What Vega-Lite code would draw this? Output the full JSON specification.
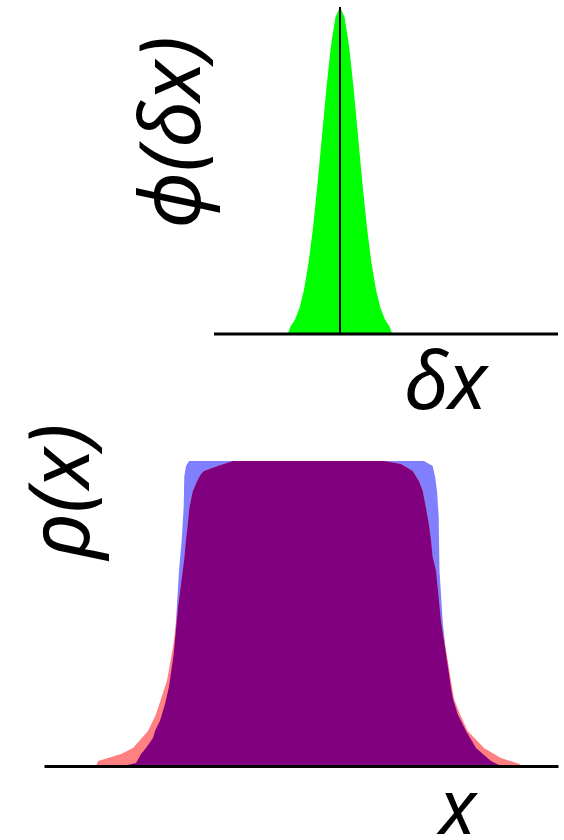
{
  "$schema": "https://vega.github.io/schema/vega-lite/v6.json",
  "padding": {"left": 20, "top": 6, "right": 0, "bottom": 0},
  "background": "white",
  "spacing": 127,
  "bounds": "flush",
  "config": {
    "view": {"stroke": null},
    "axis": {
      "grid": false, "ticks": false, "labels": false, "minExtent": 0,
      "titleFont": "Noto Sans", "titleFontStyle": "italic", "titleFontWeight": "normal",
      "titleFontSize": 80, "titleColor": "black"
    }
  },
  "datasets": {
    "phi": [
      {"dx": -2.9, "v": 0}, {"dx": -2.75, "v": 0.0228}, {"dx": -2.5, "v": 0.0439}, {"dx": -2.25, "v": 0.0796},
      {"dx": -2.0, "v": 0.1353}, {"dx": -1.75, "v": 0.2163}, {"dx": -1.5, "v": 0.3247}, {"dx": -1.25, "v": 0.4578},
      {"dx": -1.0, "v": 0.6065}, {"dx": -0.75, "v": 0.7548}, {"dx": -0.5, "v": 0.8825}, {"dx": -0.25, "v": 0.9692},
      {"dx": 0, "v": 1.0},
      {"dx": 0.25, "v": 0.9692}, {"dx": 0.5, "v": 0.8825}, {"dx": 0.75, "v": 0.7548}, {"dx": 1.0, "v": 0.6065},
      {"dx": 1.25, "v": 0.4578}, {"dx": 1.5, "v": 0.3247}, {"dx": 1.75, "v": 0.2163}, {"dx": 2.0, "v": 0.1353},
      {"dx": 2.25, "v": 0.0796}, {"dx": 2.5, "v": 0.0439}, {"dx": 2.75, "v": 0.0228}, {"dx": 2.9, "v": 0}
    ],
    "blue": [
      {"x": -17.8, "v": 0}, {"x": -16.5, "v": 0.01}, {"x": -16.0, "v": 0.039},
      {"x": -15.5, "v": 0.059}, {"x": -14.8, "v": 0.092}, {"x": -14.6, "v": 0.115},
      {"x": -14.1, "v": 0.148}, {"x": -13.6, "v": 0.203}, {"x": -13.2, "v": 0.26},
      {"x": -12.73, "v": 0.367}, {"x": -12.5, "v": 0.475}, {"x": -12.2, "v": 0.64},
      {"x": -11.93, "v": 0.74}, {"x": -11.73, "v": 0.85}, {"x": -11.67, "v": 0.95},
      {"x": -11.5, "v": 0.984}, {"x": -11.2, "v": 1.0},
      {"x": 12.3, "v": 1.0}, {"x": 13.17, "v": 0.984}, {"x": 13.4, "v": 0.95},
      {"x": 13.6, "v": 0.902}, {"x": 13.77, "v": 0.816}, {"x": 13.8, "v": 0.74},
      {"x": 13.85, "v": 0.64}, {"x": 14.17, "v": 0.475}, {"x": 14.5, "v": 0.367},
      {"x": 15.0, "v": 0.256}, {"x": 15.2, "v": 0.22}, {"x": 15.67, "v": 0.17},
      {"x": 16.5, "v": 0.115}, {"x": 17.5, "v": 0.059}, {"x": 19.0, "v": 0.016},
      {"x": 19.7, "v": 0.005}, {"x": 20.0, "v": 0}
    ],
    "red": [
      {"x": -20.5, "v": 0}, {"x": -20.3, "v": 0.016}, {"x": -18.0, "v": 0.039},
      {"x": -16.8, "v": 0.059}, {"x": -15.3, "v": 0.115}, {"x": -14.5, "v": 0.17},
      {"x": -13.4, "v": 0.28}, {"x": -12.75, "v": 0.4}, {"x": -12.3, "v": 0.52},
      {"x": -11.67, "v": 0.68}, {"x": -11.5, "v": 0.74}, {"x": -11.33, "v": 0.79},
      {"x": -11.17, "v": 0.846}, {"x": -10.83, "v": 0.9}, {"x": -10.4, "v": 0.934},
      {"x": -10.0, "v": 0.957}, {"x": -9.7, "v": 0.967}, {"x": -8.33, "v": 0.984},
      {"x": -7.5, "v": 0.993}, {"x": -6.8, "v": 1.0},
      {"x": 8.3, "v": 1.0}, {"x": 10.0, "v": 0.99}, {"x": 11.17, "v": 0.967},
      {"x": 11.8, "v": 0.934}, {"x": 12.17, "v": 0.902}, {"x": 12.5, "v": 0.846},
      {"x": 12.8, "v": 0.79}, {"x": 13.0, "v": 0.74}, {"x": 13.17, "v": 0.685},
      {"x": 13.5, "v": 0.64}, {"x": 14.0, "v": 0.475}, {"x": 14.5, "v": 0.38},
      {"x": 15.1, "v": 0.26}, {"x": 15.3, "v": 0.22}, {"x": 15.9, "v": 0.17},
      {"x": 16.67, "v": 0.115}, {"x": 18.3, "v": 0.059}, {"x": 20.0, "v": 0.026},
      {"x": 21.8, "v": 0.007}, {"x": 22.1, "v": 0}
    ],
    "overlap": [
      {"x": -17.8, "v": 0}, {"x": -16.5, "v": 0.01}, {"x": -16.0, "v": 0.039},
      {"x": -15.5, "v": 0.059}, {"x": -14.8, "v": 0.092}, {"x": -14.6, "v": 0.115},
      {"x": -14.1, "v": 0.148}, {"x": -13.6, "v": 0.203}, {"x": -13.2, "v": 0.26},
      {"x": -12.73, "v": 0.367}, {"x": -12.3, "v": 0.52}, {"x": -11.67, "v": 0.68},
      {"x": -11.5, "v": 0.74}, {"x": -11.33, "v": 0.79}, {"x": -11.17, "v": 0.846},
      {"x": -10.83, "v": 0.9}, {"x": -10.4, "v": 0.934}, {"x": -10.0, "v": 0.957},
      {"x": -9.7, "v": 0.967}, {"x": -8.33, "v": 0.984}, {"x": -7.5, "v": 0.993},
      {"x": -6.8, "v": 1.0},
      {"x": 8.3, "v": 1.0}, {"x": 10.0, "v": 0.99}, {"x": 11.17, "v": 0.967},
      {"x": 11.8, "v": 0.934}, {"x": 12.17, "v": 0.902}, {"x": 12.5, "v": 0.846},
      {"x": 12.8, "v": 0.79}, {"x": 13.0, "v": 0.74}, {"x": 13.17, "v": 0.685},
      {"x": 13.5, "v": 0.64}, {"x": 14.0, "v": 0.475}, {"x": 14.5, "v": 0.367},
      {"x": 15.0, "v": 0.256}, {"x": 15.2, "v": 0.22}, {"x": 15.67, "v": 0.17},
      {"x": 16.5, "v": 0.115}, {"x": 17.5, "v": 0.059}, {"x": 19.0, "v": 0.016},
      {"x": 19.7, "v": 0.005}, {"x": 20.0, "v": 0}
    ],
    "topLines": [
      {"kind": "base", "x": -7.0, "x2": 12.111, "y": 0, "y2": 0},
      {"kind": "center", "x": 0, "x2": 0, "y": 0, "y2": 1}
    ]
  },
  "vconcat": [
    {
      "width": 514,
      "height": 327,
      "layer": [
        {
          "data": {"name": "phi"},
          "mark": {"type": "area", "color": "#00ff00", "interpolate": "linear"},
          "encoding": {
            "x": {"field": "dx", "type": "quantitative", "scale": {"domain": [-16.444, 12.111], "nice": false, "zero": false},
              "axis": {"domain": false, "title": "δx", "titleX": 401, "titleY": 74, "titleAlign": "center", "titleBaseline": "alphabetic", "titleAnchor": null}},
            "y": {"field": "v", "type": "quantitative", "scale": {"domain": [0, 1], "nice": false},
              "axis": {"domain": false, "title": "ϕ(δx)", "titleX": 155, "titleY": 125, "titleAngle": 270, "titleFontSize": 84, "titleAlign": "center", "titleBaseline": "alphabetic", "titleAnchor": null}}
          }
        },
        {
          "data": {"name": "topLines"},
          "mark": {"type": "rule", "color": "black"},
          "encoding": {
            "x": {"field": "x", "type": "quantitative"},
            "x2": {"field": "x2"},
            "y": {"field": "y", "type": "quantitative"},
            "y2": {"field": "y2"},
            "strokeWidth": {"field": "kind", "type": "nominal", "scale": {"domain": ["base", "center"], "range": [3, 2]}, "legend": null}
          }
        }
      ]
    },
    {
      "width": 514,
      "height": 305,
      "encoding": {
        "x": {"field": "x", "type": "quantitative", "scale": {"domain": [-25.7, 25.7], "nice": false, "zero": false},
          "axis": {"domain": true, "domainColor": "black", "domainWidth": 3, "zindex": 1, "title": "x", "titleX": 413, "titleY": 67, "titleFontSize": 76, "titleAlign": "center", "titleBaseline": "alphabetic", "titleAnchor": null}},
        "y": {"field": "v", "type": "quantitative", "scale": {"domain": [0, 1], "nice": false},
          "axis": {"domain": false, "title": "ρ(x)", "titleX": 44, "titleY": 30, "titleAngle": 270, "titleFontSize": 84, "titleAlign": "center", "titleBaseline": "alphabetic", "titleAnchor": null}}
      },
      "layer": [
        {"data": {"name": "blue"}, "mark": {"type": "area", "color": "#8080ff", "interpolate": "linear"}},
        {"data": {"name": "red"}, "mark": {"type": "area", "color": "#ff8080", "interpolate": "linear"}},
        {"data": {"name": "overlap"}, "mark": {"type": "area", "color": "#800080", "interpolate": "linear"}}
      ]
    }
  ]
}
